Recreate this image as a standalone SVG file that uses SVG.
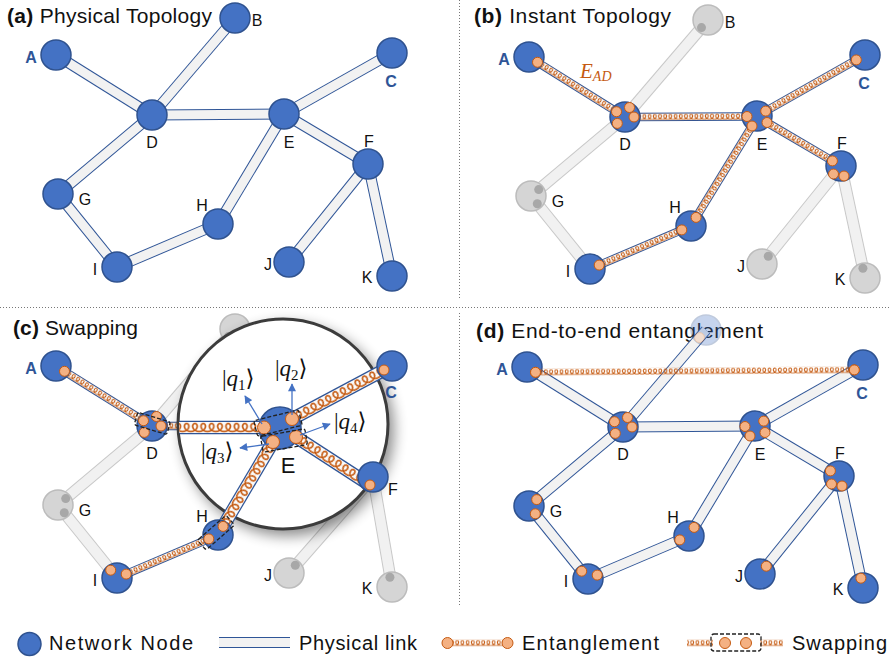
<svg xmlns="http://www.w3.org/2000/svg" width="890" height="660" viewBox="0 0 890 660">
<style>
.po{fill:none;stroke:#2f5597;stroke-width:11}
.pi{fill:none;stroke:#f2f2f2;stroke-width:9}
.go{fill:none;stroke:#c8c8c8;stroke-width:12}
.gi{fill:none;stroke:#f1f1f1;stroke-width:10}
.eo{fill:none;stroke:#2f5597;stroke-width:8.5}
.ei{fill:none;stroke:#f8f8f8;stroke-width:6.5}
.bo{fill:none;stroke:#2f5597;stroke-width:13.5}
.bi{fill:none;stroke:#fbfbfb;stroke-width:11}
.nd{fill:#4472c4;stroke:#2f528f;stroke-width:1.5}
.ng{fill:#d5d5d5;stroke:#bcbcbc;stroke-width:1.5}
.dt{fill:#f4b183;stroke:#c55a11;stroke-width:1}
.dg{fill:#a8a8a8}
.lb{font-family:"Liberation Sans",Arial,sans-serif;font-size:16px;text-anchor:middle;fill:#111}
.lbb{font-weight:bold;fill:#2f5597}
.tt{font-family:"Liberation Sans",Arial,sans-serif;font-size:21px;fill:#111}
.lg{font-family:"Liberation Sans",Arial,sans-serif;font-size:20px;fill:#111}
.q{font-family:"Liberation Serif","DejaVu Serif",serif;font-size:23px;fill:#111}
.ar{stroke:#4472c4;stroke-width:1.3;fill:none;marker-end:url(#ah)}
.ds{fill:none;stroke:#222;stroke-width:1.3;stroke-dasharray:4 2}
.dv{stroke:#777;stroke-width:1;stroke-dasharray:1 2}
</style>
<defs>
  <path id="cp" d="M0,0.9C-0.93,0.9 -1.73,2.14 -1.3,3.5C-0.87,4.86 0.81,6.1 2.6,6.1C4.39,6.1 6.07,4.86 6.5,3.5C6.93,2.14 6.13,0.9 5.2,0.9"/>
  <pattern id="coil" patternUnits="userSpaceOnUse" x="0" y="-3.5" width="5.2" height="7">
    <g fill="none" stroke="#c55a11" stroke-width="0.95">
      <use href="#cp"/><use href="#cp" x="-5.2"/><use href="#cp" x="5.2"/>
    </g>
  </pattern>
  <pattern id="coilB" patternUnits="userSpaceOnUse" x="0" y="-3.5" width="5.2" height="7" patternTransform="scale(1.6)">
    <g fill="none" stroke="#c55a11" stroke-width="1.05">
      <use href="#cp"/><use href="#cp" x="-5.2"/><use href="#cp" x="5.2"/>
    </g>
  </pattern>
  <marker id="ah" viewBox="0 0 10 10" refX="9" refY="5" markerWidth="9" markerHeight="8" markerUnits="userSpaceOnUse" orient="auto">
    <path d="M0,0L10,5L0,10z" fill="#4472c4"/>
  </marker>
  <filter id="sh" x="-30%" y="-30%" width="160%" height="160%">
    <feGaussianBlur stdDeviation="7"/>
  </filter>
  <clipPath id="mc"><circle cx="283" cy="424" r="104"/></clipPath>
  <path id="lAD" d="M56,55L152,115"/>
  <path id="lBD" d="M235,18L152,115"/>
  <path id="lDE" d="M152,115L284,114"/>
  <path id="lDG" d="M152,115L58,194"/>
  <path id="lEC" d="M284,114L392,53"/>
  <path id="lEF" d="M284,114L368,164"/>
  <path id="lEH" d="M284,114L218,224"/>
  <path id="lGI" d="M58,194L117,267"/>
  <path id="lIH" d="M117,267L218,224"/>
  <path id="lFJ" d="M368,164L289,262"/>
  <path id="lFK" d="M368,164L392,276"/>
  <path id="eAD" d="M64.5,60.3L143.5,109.7"/>
  <path id="eDE" d="M161,115L274,114.5"/>
  <path id="eEC" d="M292.7,109.1L383.3,57.9"/>
  <path id="eEF" d="M294,120.5L359.4,158.9"/>
  <path id="eEH" d="M279,124L223.1,215.4"/>
  <path id="eIH" d="M126.2,263.1L208.8,227.9"/>
  <rect id="cAD" transform="translate(64.5,60.3) rotate(32)" x="0" y="-3.5" width="93.2" height="7" fill="url(#coil)"/>
  <rect id="cDE" transform="translate(161,115) rotate(-0.25)" x="0" y="-3.5" width="113" height="7" fill="url(#coil)"/>
  <rect id="cEC" transform="translate(292.7,109.1) rotate(-29.47)" x="0" y="-3.5" width="104.1" height="7" fill="url(#coil)"/>
  <rect id="cEF" transform="translate(294,120.5) rotate(30.42)" x="0" y="-3.5" width="75.8" height="7" fill="url(#coil)"/>
  <rect id="cEH" transform="translate(279,124) rotate(121.45)" x="0" y="-3.5" width="107.1" height="7" fill="url(#coil)"/>
  <rect id="cIH" transform="translate(126.2,263.1) rotate(-23.08)" x="0" y="-3.5" width="89.8" height="7" fill="url(#coil)"/>
</defs>

<rect width="890" height="660" fill="#fff"/>

<g id="dividers">
  <line class="dv" x1="459.5" y1="0" x2="459.5" y2="298"/>
  <line class="dv" x1="0" y1="307.5" x2="890" y2="307.5"/>
  <line class="dv" x1="459.5" y1="313" x2="459.5" y2="606"/>
</g>

<g id="titles">
  <text class="tt" x="7" y="23" textLength="205"><tspan font-weight="bold">(a)</tspan> Physical Topology</text>
  <text class="tt" x="474" y="23" textLength="197"><tspan font-weight="bold">(b)</tspan> Instant Topology</text>
  <text class="tt" x="13" y="335" textLength="125"><tspan font-weight="bold">(c)</tspan> Swapping</text>
  <text class="tt" x="476" y="338" textLength="287"><tspan font-weight="bold">(d)</tspan> End-to-end entanglement</text>
</g>

<!-- ================= (a) ================= -->
<g id="panel-a">
  <g id="a-connectors">
    <use href="#lAD" class="po"/><use href="#lAD" class="pi"/>
    <use href="#lBD" class="po"/><use href="#lBD" class="pi"/>
    <use href="#lDE" class="po"/><use href="#lDE" class="pi"/>
    <use href="#lDG" class="po"/><use href="#lDG" class="pi"/>
    <use href="#lEC" class="po"/><use href="#lEC" class="pi"/>
    <use href="#lEF" class="po"/><use href="#lEF" class="pi"/>
    <use href="#lEH" class="po"/><use href="#lEH" class="pi"/>
    <use href="#lGI" class="po"/><use href="#lGI" class="pi"/>
    <use href="#lIH" class="po"/><use href="#lIH" class="pi"/>
    <use href="#lFJ" class="po"/><use href="#lFJ" class="pi"/>
    <use href="#lFK" class="po"/><use href="#lFK" class="pi"/>
  </g>
  <g id="a-A"><circle class="nd" cx="56" cy="55" r="15"/><text class="lb lbb" x="31" y="63">A</text></g>
  <g id="a-B"><circle class="nd" cx="235" cy="18" r="15"/><text class="lb" x="257" y="26">B</text></g>
  <g id="a-C"><circle class="nd" cx="392" cy="53" r="15"/><text class="lb lbb" x="391" y="87">C</text></g>
  <g id="a-D"><circle class="nd" cx="152" cy="115" r="15"/><text class="lb" x="152" y="148">D</text></g>
  <g id="a-E"><circle class="nd" cx="284" cy="114" r="15"/><text class="lb" x="289" y="148">E</text></g>
  <g id="a-F"><circle class="nd" cx="368" cy="164" r="15"/><text class="lb" x="369" y="147">F</text></g>
  <g id="a-G"><circle class="nd" cx="58" cy="194" r="15"/><text class="lb" x="85" y="205">G</text></g>
  <g id="a-H"><circle class="nd" cx="218" cy="224" r="15"/><text class="lb" x="202" y="211">H</text></g>
  <g id="a-I"><circle class="nd" cx="117" cy="267" r="15"/><text class="lb" x="95" y="275">I</text></g>
  <g id="a-J"><circle class="nd" cx="289" cy="262" r="15"/><text class="lb" x="268" y="270">J</text></g>
  <g id="a-K"><circle class="nd" cx="392" cy="276" r="15"/><text class="lb" x="367" y="283">K</text></g>
</g>

<!-- ================= (b) ================= -->
<g id="panel-b" transform="translate(473,2)">
  <g id="b-connectors">
    <use href="#lBD" class="go"/><use href="#lBD" class="gi"/>
    <use href="#lDG" class="go"/><use href="#lDG" class="gi"/>
    <use href="#lGI" class="go"/><use href="#lGI" class="gi"/>
    <use href="#lFJ" class="go"/><use href="#lFJ" class="gi"/>
    <use href="#lFK" class="go"/><use href="#lFK" class="gi"/>
    <use href="#eAD" class="eo"/><use href="#eAD" class="ei"/><use href="#cAD"/>
    <use href="#eDE" class="eo"/><use href="#eDE" class="ei"/><use href="#cDE"/>
    <use href="#eEC" class="eo"/><use href="#eEC" class="ei"/><use href="#cEC"/>
    <use href="#eEF" class="eo"/><use href="#eEF" class="ei"/><use href="#cEF"/>
    <use href="#eEH" class="eo"/><use href="#eEH" class="ei"/><use href="#cEH"/>
    <use href="#eIH" class="eo"/><use href="#eIH" class="ei"/><use href="#cIH"/>
  </g>
  <g id="b-A"><circle class="nd" cx="56" cy="55" r="15"/><circle class="dt" cx="64.5" cy="60.3" r="5"/><text class="lb lbb" x="31" y="63">A</text></g>
  <g id="b-B"><circle class="ng" cx="235" cy="18" r="15"/><circle class="dg" cx="228.5" cy="25.6" r="4.5"/><text class="lb" x="257" y="26">B</text></g>
  <g id="b-C"><circle class="nd" cx="392" cy="53" r="15"/><circle class="dt" cx="383.3" cy="57.9" r="5"/><text class="lb lbb" x="391" y="87">C</text></g>
  <g id="b-D"><circle class="nd" cx="152" cy="115" r="15"/><circle class="dt" cx="143.5" cy="109.7" r="5"/><circle class="dt" cx="156.5" cy="105.5" r="5"/><circle class="dt" cx="161" cy="115" r="5"/><circle class="dt" cx="144.3" cy="121.4" r="5"/><text class="lb" x="152" y="148">D</text></g>
  <g id="b-E"><circle class="nd" cx="284" cy="114" r="15"/><circle class="dt" cx="274" cy="114.5" r="5"/><circle class="dt" cx="292.7" cy="109.1" r="5"/><circle class="dt" cx="294" cy="120.5" r="5"/><circle class="dt" cx="279" cy="124" r="5"/><text class="lb" x="289" y="148">E</text></g>
  <g id="b-F"><circle class="nd" cx="368" cy="164" r="15"/><circle class="dt" cx="359.4" cy="158.9" r="5"/><circle class="dt" cx="360.5" cy="172" r="5"/><circle class="dt" cx="371" cy="174" r="5"/><text class="lb" x="369" y="147">F</text></g>
  <g id="b-G"><circle class="ng" cx="58" cy="194" r="15"/><circle class="dg" cx="65.7" cy="187.6" r="4.5"/><circle class="dg" cx="64.3" cy="201.8" r="4.5"/><text class="lb" x="85" y="205">G</text></g>
  <g id="b-H"><circle class="nd" cx="218" cy="224" r="15"/><circle class="dt" cx="223.1" cy="215.4" r="5"/><circle class="dt" cx="208.8" cy="227.9" r="5"/><text class="lb" x="202" y="211">H</text></g>
  <g id="b-I"><circle class="nd" cx="117" cy="267" r="15"/><circle class="dt" cx="126.2" cy="263.1" r="5"/><text class="lb" x="95" y="275">I</text></g>
  <g id="b-J"><circle class="ng" cx="289" cy="262" r="15"/><circle class="dg" cx="295.3" cy="254.2" r="4.5"/><text class="lb" x="268" y="270">J</text></g>
  <g id="b-K"><circle class="ng" cx="392" cy="276" r="15"/><circle class="dg" cx="389.9" cy="266.2" r="4.5"/><text class="lb" x="367" y="283">K</text></g>
  <text x="107" y="76" font-family="Liberation Serif,serif" font-style="italic" font-size="21" fill="#c55a11">E<tspan font-size="14" dy="3">AD</tspan></text>
</g>

<!-- ================= (c) ================= -->
<g id="panel-c">
  <g id="c-connectors" transform="translate(0,311)">
    <use href="#lBD" class="go"/><use href="#lBD" class="gi"/>
    <use href="#lDG" class="go"/><use href="#lDG" class="gi"/>
    <use href="#lGI" class="go"/><use href="#lGI" class="gi"/>
    <path class="go" d="M373,166L289,262"/><path class="gi" d="M373,166L289,262"/>
    <path class="go" d="M373,166L392,276"/><path class="gi" d="M373,166L392,276"/>
    <use href="#eAD" class="eo"/><use href="#eAD" class="ei"/><use href="#cAD"/>
    <use href="#eIH" class="eo"/><use href="#eIH" class="ei"/><use href="#cIH"/>
    <path class="eo" d="M161,115L200,115"/><path class="ei" d="M161,115L200,115"/>
    <rect transform="translate(161,115)" x="0" y="-3.5" width="39" height="7" fill="url(#coil)"/>
  </g>
  <g id="c-B" transform="translate(0,311)"><circle class="ng" cx="235" cy="18" r="15"/><circle class="dg" cx="228.5" cy="25.6" r="4.5"/></g>

  <g id="c-magnifier">
    <circle cx="288" cy="430" r="106" fill="#000" opacity="0.45" filter="url(#sh)"/>
    <circle cx="283" cy="424" r="105" fill="#fff" stroke="#3c3c3c" stroke-width="3"/>
  </g>

  <g id="c-zoom-connectors">
    <g clip-path="url(#mc)">
      <line class="bo" x1="170" y1="427.5" x2="264" y2="427.5"/><line class="bi" x1="170" y1="427.5" x2="264" y2="427.5"/>
      <rect transform="translate(170,427.5)" x="0" y="-5.6" width="94" height="11.2" fill="url(#coilB)"/>
    </g>
    <line class="bo" x1="292" y1="419" x2="384" y2="370"/><line class="bi" x1="292" y1="419" x2="384" y2="370"/>
    <rect transform="translate(292,419) rotate(-28.04)" x="0" y="-5.6" width="104.2" height="11.2" fill="url(#coilB)"/>
    <line class="bo" x1="296" y1="437" x2="370" y2="485"/><line class="bi" x1="296" y1="437" x2="370" y2="485"/>
    <rect transform="translate(296,437) rotate(32.97)" x="0" y="-5.6" width="88.2" height="11.2" fill="url(#coilB)"/>
    <line class="bo" x1="273" y1="442" x2="223.1" y2="526.4"/><line class="bi" x1="273" y1="442" x2="223.1" y2="526.4"/>
    <rect transform="translate(273,442) rotate(120.6)" x="0" y="-5.6" width="98.05" height="11.2" fill="url(#coilB)"/>
  </g>

  <g id="c-nodes" transform="translate(0,311)">
    <g id="c-A"><circle class="nd" cx="56" cy="55" r="15"/><circle class="dt" cx="64.5" cy="60.3" r="5"/><text class="lb lbb" x="31" y="63">A</text></g>
    <g id="c-C"><circle class="nd" cx="392" cy="55" r="15"/><circle class="dt" cx="384" cy="59" r="5"/><text class="lb lbb" x="391" y="87">C</text></g>
    <g id="c-D"><circle class="nd" cx="152" cy="115" r="15"/><circle class="dt" cx="143.5" cy="109.7" r="5"/><circle class="dt" cx="156.5" cy="105.5" r="5"/><circle class="dt" cx="161" cy="115" r="5"/><circle class="dt" cx="144.3" cy="121.4" r="5"/><text class="lb" x="152" y="148">D</text></g>
    <g id="c-F"><circle class="nd" cx="373" cy="166" r="15"/><circle class="dt" cx="370" cy="174" r="5"/><text class="lb" x="393" y="184">F</text></g>
    <g id="c-G"><circle class="ng" cx="58" cy="194" r="15"/><circle class="dg" cx="65.7" cy="187.6" r="4.5"/><circle class="dg" cx="64.3" cy="201.8" r="4.5"/><text class="lb" x="85" y="205">G</text></g>
    <g id="c-H"><circle class="nd" cx="218" cy="224" r="15"/><circle class="dt" cx="223.1" cy="215.4" r="5"/><circle class="dt" cx="208.8" cy="227.9" r="5"/><text class="lb" x="202" y="211">H</text></g>
    <g id="c-I"><circle class="nd" cx="117" cy="267" r="15"/><circle class="dt" cx="110.7" cy="259.2" r="5"/><circle class="dt" cx="126.2" cy="263.1" r="5"/><text class="lb" x="95" y="275">I</text></g>
    <g id="c-J"><circle class="ng" cx="289" cy="262" r="15"/><circle class="dg" cx="295.3" cy="254.2" r="4.5"/><text class="lb" x="268" y="270">J</text></g>
    <g id="c-K"><circle class="ng" cx="392" cy="276" r="15"/><circle class="dg" cx="389.9" cy="266.2" r="4.5"/><text class="lb" x="367" y="283">K</text></g>
  </g>

  <g id="c-E">
    <circle class="nd" cx="280" cy="428" r="21"/>
    <circle class="dt" cx="264" cy="427.5" r="6.5"/>
    <circle class="dt" cx="292" cy="419" r="6.5"/>
    <circle class="dt" cx="273" cy="442" r="6.5"/>
    <circle class="dt" cx="296" cy="437" r="6.5"/>
    <rect class="ds" transform="translate(278,423) rotate(-14)" x="-23" y="-8" width="46" height="16" rx="2"/>
    <rect class="ds" transform="translate(284,440.5) rotate(-10)" x="-22.5" y="-8" width="45" height="16" rx="2"/>
    <line class="ar" x1="262" y1="424" x2="245" y2="396"/>
    <line class="ar" x1="292" y1="415" x2="292" y2="384"/>
    <line class="ar" x1="300" y1="435" x2="330" y2="424"/>
    <line class="ar" x1="269" y1="444" x2="240" y2="448"/>
    <text class="q" x="222" y="386">|<tspan font-style="italic">q</tspan><tspan font-size="15" dy="4">1</tspan><tspan dy="-4">⟩</tspan></text>
    <text class="q" x="275" y="376">|<tspan font-style="italic">q</tspan><tspan font-size="15" dy="4">2</tspan><tspan dy="-4">⟩</tspan></text>
    <text class="q" x="201" y="459">|<tspan font-style="italic">q</tspan><tspan font-size="15" dy="4">3</tspan><tspan dy="-4">⟩</tspan></text>
    <text class="q" x="334" y="429">|<tspan font-style="italic">q</tspan><tspan font-size="15" dy="4">4</tspan><tspan dy="-4">⟩</tspan></text>
    <text x="288" y="473" font-family="Liberation Sans,Arial,sans-serif" font-size="22" text-anchor="middle" fill="#111">E</text>
  </g>
  <g id="c-swaps">
    <rect class="ds" transform="translate(152.3,423.4) rotate(16.8)" x="-17" y="-6.5" width="34" height="13" rx="2"/>
    <rect class="ds" transform="translate(216,532.6) rotate(-41.2)" x="-19" y="-6.5" width="38" height="13" rx="2"/>
  </g>
</g>

<!-- ================= (d) ================= -->
<g id="panel-d" transform="translate(471,312)">
  <g id="d-connectors">
    <use href="#lAD" class="po"/><use href="#lAD" class="pi"/>
    <use href="#lBD" class="po"/><use href="#lBD" class="pi"/>
    <use href="#lDE" class="po"/><use href="#lDE" class="pi"/>
    <use href="#lDG" class="po"/><use href="#lDG" class="pi"/>
    <use href="#lEC" class="po"/><use href="#lEC" class="pi"/>
    <use href="#lEF" class="po"/><use href="#lEF" class="pi"/>
    <use href="#lEH" class="po"/><use href="#lEH" class="pi"/>
    <use href="#lGI" class="po"/><use href="#lGI" class="pi"/>
    <use href="#lIH" class="po"/><use href="#lIH" class="pi"/>
    <use href="#lFJ" class="po"/><use href="#lFJ" class="pi"/>
    <use href="#lFK" class="po"/><use href="#lFK" class="pi"/>
  </g>
  <g id="d-B" opacity="0.3"><circle class="nd" cx="235" cy="18" r="15"/><circle class="dt" cx="228.5" cy="25.6" r="5"/></g>
  <g id="d-A"><circle class="nd" cx="56" cy="55" r="15"/><circle class="dt" cx="64.5" cy="60.3" r="5"/><text class="lb lbb" x="31" y="63">A</text></g>
  <g id="d-C"><circle class="nd" cx="392" cy="53" r="15"/><circle class="dt" cx="383.3" cy="57.9" r="5"/><text class="lb lbb" x="391" y="87">C</text></g>
  <g id="d-D"><circle class="nd" cx="152" cy="115" r="15"/><circle class="dt" cx="143.5" cy="109.7" r="5"/><circle class="dt" cx="156.5" cy="105.5" r="5"/><circle class="dt" cx="161" cy="115" r="5"/><circle class="dt" cx="144.3" cy="121.4" r="5"/><text class="lb" x="152" y="148">D</text></g>
  <g id="d-E"><circle class="nd" cx="284" cy="114" r="15"/><circle class="dt" cx="274" cy="114.5" r="5"/><circle class="dt" cx="292.7" cy="109.1" r="5"/><circle class="dt" cx="294" cy="120.5" r="5"/><circle class="dt" cx="279" cy="124" r="5"/><text class="lb" x="289" y="148">E</text></g>
  <g id="d-F"><circle class="nd" cx="368" cy="164" r="15"/><circle class="dt" cx="359.4" cy="158.9" r="5"/><circle class="dt" cx="360.5" cy="172" r="5"/><circle class="dt" cx="371" cy="174" r="5"/><text class="lb" x="369" y="147">F</text></g>
  <g id="d-G"><circle class="nd" cx="58" cy="194" r="15"/><circle class="dt" cx="65.7" cy="187.6" r="5"/><circle class="dt" cx="64.3" cy="201.8" r="5"/><text class="lb" x="85" y="205">G</text></g>
  <g id="d-H"><circle class="nd" cx="218" cy="224" r="15"/><circle class="dt" cx="223.1" cy="215.4" r="5"/><circle class="dt" cx="208.8" cy="227.9" r="5"/><text class="lb" x="202" y="211">H</text></g>
  <g id="d-I"><circle class="nd" cx="117" cy="267" r="15"/><circle class="dt" cx="110.7" cy="259.2" r="5"/><circle class="dt" cx="126.2" cy="263.1" r="5"/><text class="lb" x="95" y="275">I</text></g>
  <g id="d-J"><circle class="nd" cx="289" cy="262" r="15"/><circle class="dt" cx="295.3" cy="254.2" r="5"/><text class="lb" x="268" y="270">J</text></g>
  <g id="d-K"><circle class="nd" cx="392" cy="276" r="15"/><circle class="dt" cx="389.9" cy="266.2" r="5"/><text class="lb" x="367" y="283">K</text></g>
  <g id="d-entanglement">
    <rect transform="translate(64.5,60.3) rotate(-0.43)" x="0" y="-3.5" width="318.8" height="7" fill="url(#coil)"/>
    <circle class="dt" cx="64.5" cy="60.3" r="5"/><circle class="dt" cx="383.3" cy="57.9" r="5"/>
  </g>
</g>

<!-- ================= legend ================= -->
<g id="legend">
  <circle class="nd" cx="29.5" cy="644" r="11.5"/>
  <text class="lg" x="49" y="650" textLength="144">Network Node</text>
  <line class="po" x1="219" y1="642.5" x2="290" y2="642.5"/><line class="pi" x1="219" y1="642.5" x2="290" y2="642.5"/>
  <text class="lg" x="299" y="650" textLength="118">Physical link</text>
  <rect transform="translate(452,643)" x="0" y="-3.5" width="51" height="7" fill="url(#coil)"/>
  <circle class="dt" cx="447.5" cy="643" r="5.5"/><circle class="dt" cx="507.5" cy="643" r="5.5"/>
  <text class="lg" x="522" y="650" textLength="137">Entanglement</text>
  <rect transform="translate(687,643)" x="0" y="-3.5" width="26" height="7" fill="url(#coil)"/>
  <rect transform="translate(760,643)" x="0" y="-3.5" width="23" height="7" fill="url(#coil)"/>
  <circle class="dt" cx="725" cy="643" r="5.5"/><circle class="dt" cx="746" cy="643" r="5.5"/>
  <rect class="ds" x="711" y="634" width="50" height="17" rx="3"/>
  <text class="lg" x="792" y="650" textLength="95">Swapping</text>
</g>
</svg>
